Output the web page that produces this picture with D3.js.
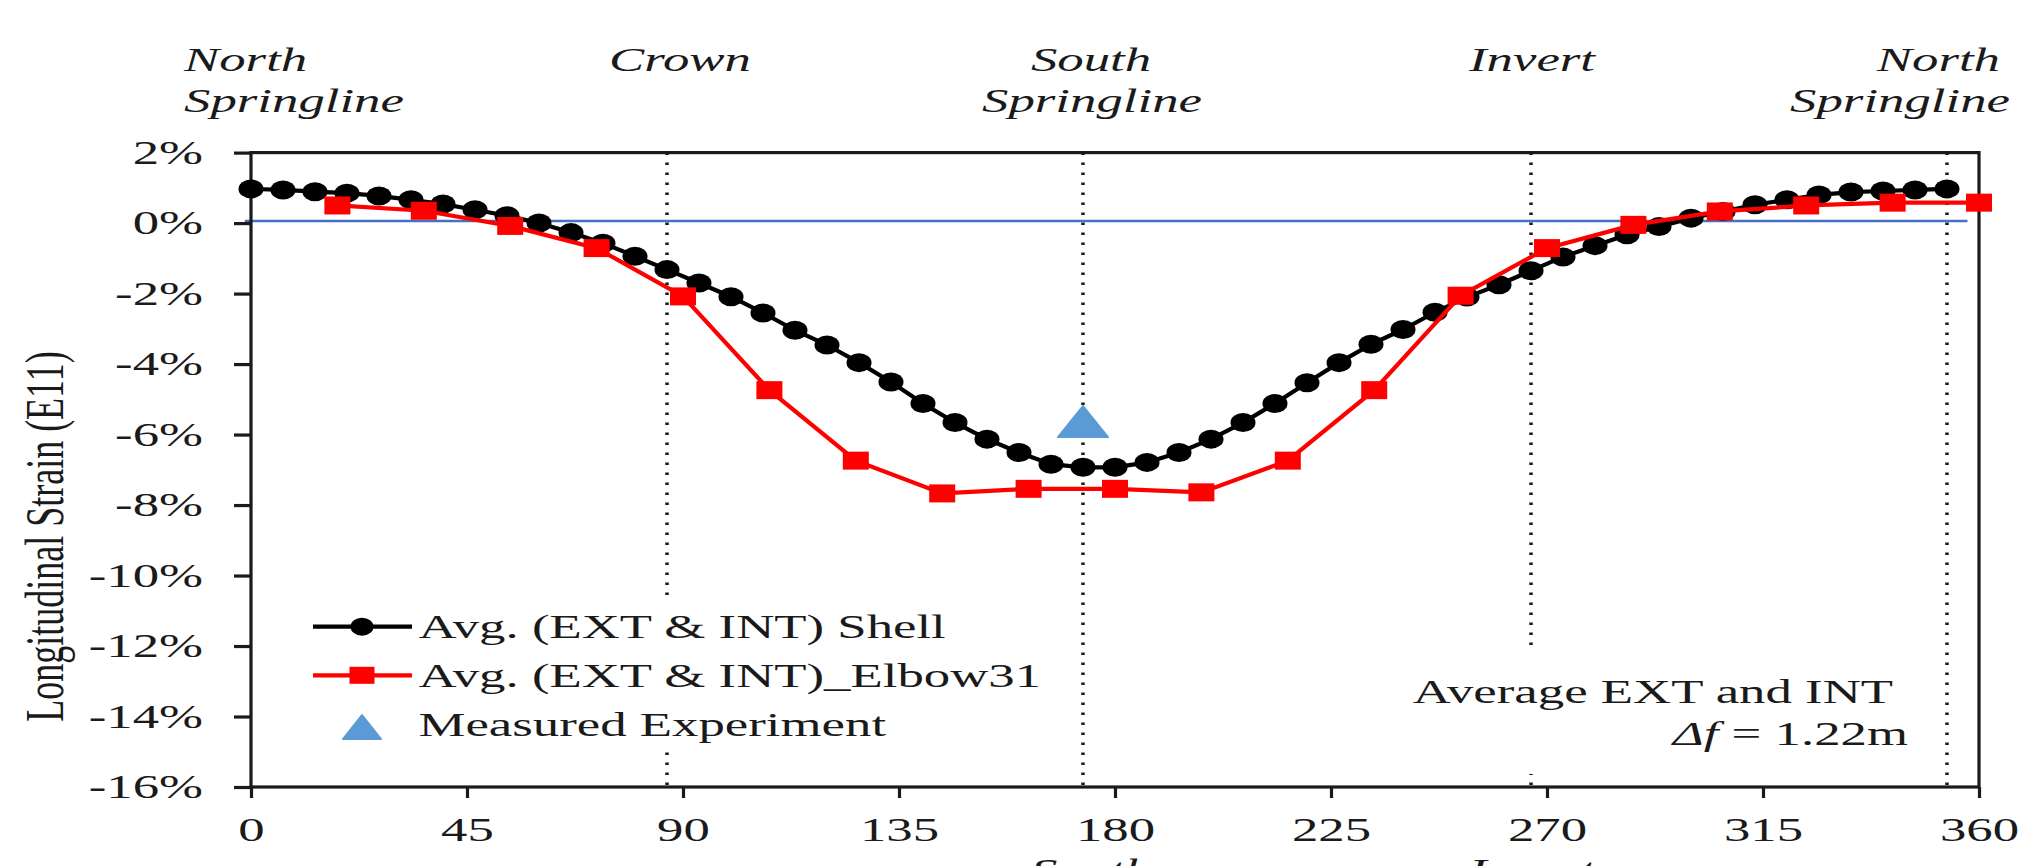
<!DOCTYPE html>
<html>
<head>
<meta charset="utf-8">
<script src="https://cdn.jsdelivr.net/npm/d3@7"></script>
<style>
  html, body { margin: 0; padding: 0; background: #fff; }
  svg { display: block; }
</style>
</head>
<body>
<div id="chart"></div>
<script>
// angles (deg) and strain (%)
const shellAngle = [0, 6.67, 13.33, 20, 26.67, 33.33, 40, 46.67, 53.33, 60, 66.67, 73.33, 80, 86.67,
  93.33, 100, 106.67, 113.33, 120, 126.67, 133.33, 140, 146.67, 153.33, 160, 166.67, 173.33, 180,
  186.67, 193.33, 200, 206.67, 213.33, 220, 226.67, 233.33, 240, 246.67, 253.33, 260, 266.67, 273.33,
  280, 286.67, 293.33, 300, 306.67, 313.33, 320, 326.67, 333.33, 340, 346.67, 353.33];
const shellStrain = [0.97, 0.94, 0.89, 0.85, 0.77, 0.66, 0.54, 0.38, 0.21, 0.00, -0.27, -0.57, -0.94, -1.32,
  -1.70, -2.09, -2.55, -3.04, -3.46, -3.96, -4.51, -5.12, -5.66, -6.13, -6.51, -6.84, -6.93, -6.93,
  -6.79, -6.51, -6.13, -5.66, -5.12, -4.53, -3.96, -3.44, -3.02, -2.53, -2.10, -1.75, -1.35, -0.96,
  -0.64, -0.33, -0.10, 0.14, 0.33, 0.52, 0.66, 0.80, 0.88, 0.91, 0.94, 0.97];

const elbowAngle = [18, 36, 54, 72, 90, 108, 126, 144, 162, 180, 198, 216, 234, 252, 270, 288, 306, 324, 342, 360];
const elbowStrain = [0.50, 0.35, -0.08, -0.71, -2.08, -4.74, -6.74, -7.67, -7.54, -7.54, -7.64, -6.74,
  -4.74, -2.06, -0.71, -0.05, 0.33, 0.50, 0.58, 0.58];

const measuredAngle = [173.33];
const measuredStrain = [-5.63];

const xTicks = [0, 45, 90, 135, 180, 225, 270, 315, 360];
const yTicks = [2, 0, -2, -4, -6, -8, -10, -12, -14, -16];

const guideAngle = [86.67, 173.33, 266.67, 353.33];
const zeroLine = [[-1.3, 0.06], [357.6, 0.06]];

const legendNames = ['Avg. (EXT & INT) Shell', 'Avg. (EXT & INT)_Elbow31', 'Measured Experiment'];

const W = 2018, H = 866;
const SERIF = '"Liberation Serif", "Times New Roman", serif';
const SX = 1.6; // the original figure is stretched sideways

const svg = d3.select('#chart').append('svg')
  .attr('width', W)
  .attr('height', H)
  .attr('viewBox', `0 0 ${W} ${H}`);

svg.append('rect').attr('width', W).attr('height', H).attr('fill', '#fff');

const x = d3.scaleLinear().domain([0, 360]).range([251, 1979]);
const y = d3.scaleLinear().domain([-16, 2]).range([787, 152.6]);

function label(g, px, py, txt, opts = {}) {
  return g.append('text')
    .attr('transform', `translate(${px},${py}) scale(${opts.sx || SX},1)`)
    .attr('text-anchor', opts.anchor || 'start')
    .attr('font-family', SERIF)
    .attr('font-size', opts.size || 33)
    .attr('font-style', opts.italic ? 'italic' : 'normal')
    .attr('fill', '#1a1a1a')
    .text(txt);
}

// dotted guide lines
svg.append('g').selectAll('line')
  .data(guideAngle)
  .join('line')
  .attr('x1', d => x(d)).attr('x2', d => x(d))
  .attr('y1', y(2)).attr('y2', y(-16))
  .attr('stroke', '#1a1a1a')
  .attr('stroke-width', 3.5)
  .attr('stroke-dasharray', '2.5,7.5');

// white boxes behind legend and note
svg.append('rect').attr('x', 300).attr('y', 602).attr('width', 765).attr('height', 146).attr('fill', '#fff');
svg.append('rect').attr('x', 1390).attr('y', 652).attr('width', 530).attr('height', 122).attr('fill', '#fff');

// zero reference line
svg.append('path')
  .attr('d', d3.line().x(d => x(d[0])).y(d => y(d[1]))(zeroLine))
  .attr('stroke', '#4472c4')
  .attr('stroke-width', 2.4)
  .attr('fill', 'none');

// axes
const yAxis = svg.append('g')
  .attr('transform', `translate(${x(0)},0)`)
  .call(d3.axisLeft(y).tickValues(yTicks).tickSize(17).tickFormat(d => d + '%'))
  .attr('font-family', SERIF).attr('font-size', 33);
yAxis.select('.domain').remove();
yAxis.selectAll('.tick line').attr('stroke', '#1a1a1a').attr('stroke-width', 3.2);
yAxis.selectAll('.tick text')
  .attr('x', -30).attr('dy', '0.33em')
  .attr('transform', `scale(${SX},1)`)
  .attr('fill', '#1a1a1a');

const xAxis = svg.append('g')
  .attr('transform', `translate(0,${y(-16)})`)
  .call(d3.axisBottom(x).tickValues(xTicks).tickSize(11).tickFormat(d => d))
  .attr('font-family', SERIF).attr('font-size', 33);
xAxis.select('.domain').remove();
xAxis.selectAll('.tick line').attr('stroke', '#1a1a1a').attr('stroke-width', 3.2);
xAxis.selectAll('.tick text')
  .attr('y', 54).attr('dy', 0)
  .attr('transform', `scale(${SX},1)`)
  .attr('fill', '#1a1a1a');

// plot frame
svg.append('rect')
  .attr('x', x(0)).attr('y', y(2))
  .attr('width', x(360) - x(0)).attr('height', y(-16) - y(2))
  .attr('fill', 'none')
  .attr('stroke', '#1a1a1a')
  .attr('stroke-width', 3.2);

// y title
svg.append('text')
  .attr('transform', `translate(63,${(y(-16) + 282) / 2 + 2}) rotate(-90) scale(1,1.5)`)
  .attr('text-anchor', 'middle')
  .attr('font-family', SERIF)
  .attr('font-size', 36)
  .attr('fill', '#1a1a1a')
  .text('Longitudinal Strain (E11)');

// series
const shell = shellAngle.map((a, i) => ({ a, v: shellStrain[i] }));
const elbow = elbowAngle.map((a, i) => ({ a, v: elbowStrain[i] }));
const measured = measuredAngle.map((a, i) => ({ a, v: measuredStrain[i] }));

const line = d3.line().x(d => x(d.a)).y(d => y(d.v));

svg.append('path').datum(shell)
  .attr('d', line).attr('fill', 'none').attr('stroke', '#000').attr('stroke-width', 4.2);
svg.append('g').selectAll('ellipse')
  .data(shell)
  .join('ellipse')
  .attr('cx', d => x(d.a)).attr('cy', d => y(d.v))
  .attr('rx', 12.5).attr('ry', 9.5)
  .attr('fill', '#000');

svg.append('path').datum(elbow)
  .attr('d', line).attr('fill', 'none').attr('stroke', '#ff0000').attr('stroke-width', 4.2);
svg.append('g').selectAll('rect')
  .data(elbow)
  .join('rect')
  .attr('x', d => x(d.a) - 13).attr('y', d => y(d.v) - 9)
  .attr('width', 26).attr('height', 18)
  .attr('fill', '#ff0000');

const tri = (w, h) => `M0,${-h / 2}L${w / 2},${h / 2}L${-w / 2},${h / 2}Z`;
svg.append('g').selectAll('path')
  .data(measured)
  .join('path')
  .attr('transform', d => `translate(${x(d.a)},${y(d.v)})`)
  .attr('d', tri(50, 31))
  .attr('fill', '#5b9bd5')
  .attr('stroke', '#5b9bd5')
  .attr('stroke-linejoin', 'round')
  .attr('stroke-width', 2);

// legend
const legRows = [626.7, 675.3, 724];
const leg = svg.append('g');
leg.append('line').attr('x1', 313).attr('x2', 412).attr('y1', legRows[0]).attr('y2', legRows[0])
  .attr('stroke', '#000').attr('stroke-width', 4.2);
leg.append('ellipse').attr('cx', 362).attr('cy', legRows[0]).attr('rx', 11.5).attr('ry', 9).attr('fill', '#000');
leg.append('line').attr('x1', 313).attr('x2', 412).attr('y1', legRows[1]).attr('y2', legRows[1])
  .attr('stroke', '#ff0000').attr('stroke-width', 4.2);
leg.append('rect').attr('x', 362 - 12.5).attr('y', legRows[1] - 8.5).attr('width', 25).attr('height', 17).attr('fill', '#ff0000');
leg.append('path').attr('transform', `translate(362,${legRows[2] + 3})`).attr('d', tri(38, 24))
  .attr('fill', '#5b9bd5').attr('stroke', '#5b9bd5').attr('stroke-linejoin', 'round').attr('stroke-width', 2);
legendNames.forEach((n, i) => label(leg, 418.5, legRows[i] + 11.5, n));

// note
label(svg, 1893, 703, 'Average EXT and INT', { anchor: 'end' });
const note = label(svg, 1908, 745, '', { anchor: 'end' });
note.append('tspan').attr('font-style', 'italic').text('\u0394f');
note.append('tspan').text(' = 1.22m');

// location labels on top
label(svg, 184, 71, 'North', { italic: true });
label(svg, 184, 112, 'Springline', { italic: true });
label(svg, 680, 71, 'Crown', { italic: true, anchor: 'middle' });
label(svg, 1091, 71, 'South', { italic: true, anchor: 'middle' });
label(svg, 1092, 112, 'Springline', { italic: true, anchor: 'middle' });
label(svg, 1532, 71, 'Invert', { italic: true, anchor: 'middle' });
label(svg, 2000, 71, 'North', { italic: true, anchor: 'end' });
label(svg, 2010, 112, 'Springline', { italic: true, anchor: 'end' });

// bottom labels, cut by the picture edge as in the source figure
label(svg, 1091, 882, 'South', { italic: true, anchor: 'middle' });
label(svg, 1532, 882, 'Invert', { italic: true, anchor: 'middle' });
</script>
</body>
</html>
